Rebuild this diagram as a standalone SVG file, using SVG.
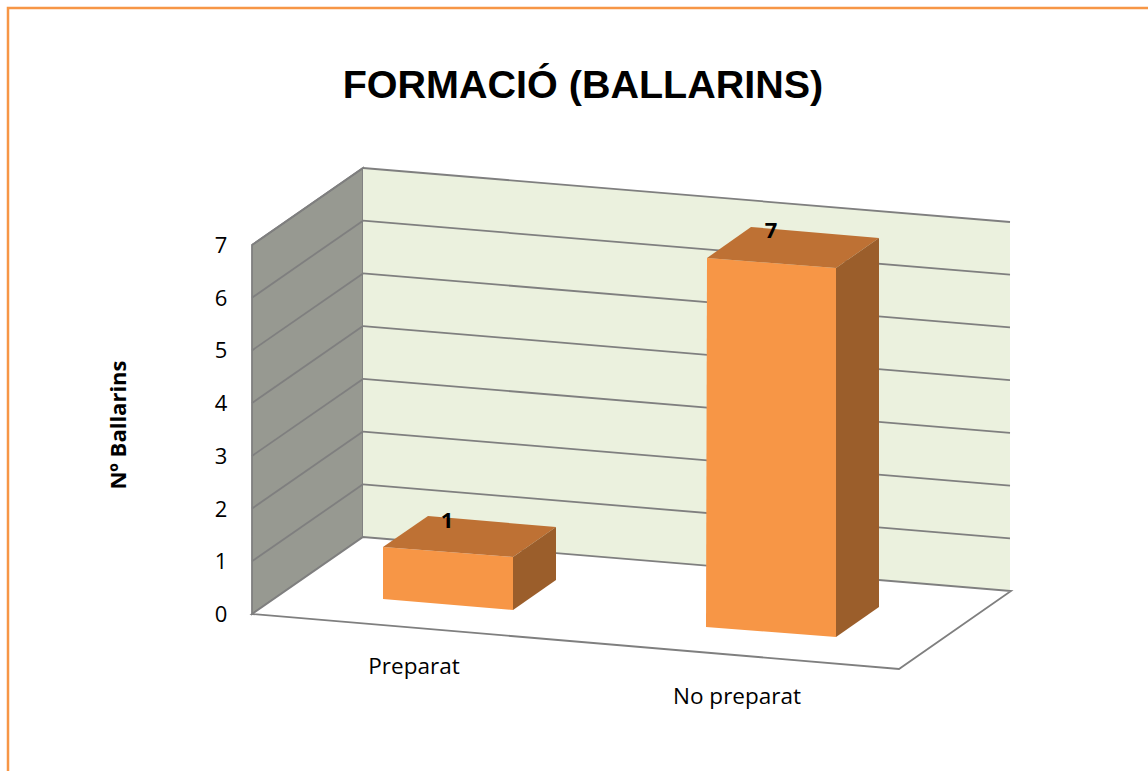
<svg xmlns="http://www.w3.org/2000/svg" width="1148" height="771" viewBox="0 0 1148 771">
<style>
.grid{stroke:#7F7F7F;stroke-width:1.8;fill:none}
.lbl{font-family:"Open Sans","Noto Sans",sans-serif;font-size:22.5px;fill:#000}
.ylbl{font-family:"Open Sans","Noto Sans",sans-serif;font-size:22px;fill:#000;text-anchor:middle}
.bold{font-weight:bold}
.front{fill:#F79646}
.top{fill:#BE7134}
.side{fill:#9B5E2B}
</style>
<rect x="0" y="0" width="1148" height="771" fill="#fff"/>
<rect x="8" y="8" width="1160" height="800" fill="none" stroke="#F79646" stroke-width="2.5"/>
<text x="583" y="98" text-anchor="middle" font-family="Liberation Sans, Arial, sans-serif" font-weight="bold" font-size="39.5">FORMACIÓ (BALLARINS)</text>
<g id="walls">
<polygon points="252,245 363,168 363,537 252,614" fill="#979991" stroke="#7F7F7F" stroke-width="1.8"/>
<polygon points="363,168 1010,222 1010,591 363,537" fill="#EBF1DE"/>
<polygon points="252,614 899,669 1011,591 363,537" fill="#fff" stroke="#7F7F7F" stroke-width="1.8"/>
</g>
<g id="gridlines" class="grid">
<line x1="363" y1="168" x2="1010" y2="222"/>
<line x1="363" y1="220.7" x2="1010" y2="274.7"/>
<line x1="363" y1="273.4" x2="1010" y2="327.4"/>
<line x1="363" y1="326.1" x2="1010" y2="380.1"/>
<line x1="363" y1="378.9" x2="1010" y2="432.9"/>
<line x1="363" y1="431.6" x2="1010" y2="485.6"/>
<line x1="363" y1="484.3" x2="1010" y2="538.3"/>
<line x1="252" y1="245" x2="363" y2="168"/>
<line x1="252" y1="297.7" x2="363" y2="220.7"/>
<line x1="252" y1="350.4" x2="363" y2="273.4"/>
<line x1="252" y1="403.1" x2="363" y2="326.1"/>
<line x1="252" y1="455.9" x2="363" y2="378.9"/>
<line x1="252" y1="508.6" x2="363" y2="431.6"/>
<line x1="252" y1="561.3" x2="363" y2="484.3"/>
</g>
<g id="yaxis">
<text class="ylbl" x="221" y="253">7</text>
<text class="ylbl" x="221" y="305.7">6</text>
<text class="ylbl" x="221" y="358.4">5</text>
<text class="ylbl" x="221" y="411.1">4</text>
<text class="ylbl" x="221" y="463.9">3</text>
<text class="ylbl" x="221" y="516.6">2</text>
<text class="ylbl" x="221" y="569.3">1</text>
<text class="ylbl" x="221" y="622">0</text>
<text class="ylbl bold" transform="translate(126,425) rotate(-90)">Nº Ballarins</text>
</g>
<g id="bar-preparat">
<polygon class="front" points="383,547 513,557 513,610 383,599"/>
<polygon class="top" points="383,547 428,516 556,527 513,557"/>
<polygon class="side" points="513,557 556,527 556,580 513,610"/>
<text class="ylbl bold" x="447" y="528">1</text>
<text class="lbl" x="414" y="674" text-anchor="middle">Preparat</text>
</g>
<g id="bar-nopreparat">
<polygon class="front" points="707,258 836,268 836,637 706,627"/>
<polygon class="top" points="707,258 751,227 879,238 836,268"/>
<polygon class="side" points="836,268 879,238 879,607 836,637"/>
<text class="ylbl bold" x="771" y="238">7</text>
<text class="lbl" x="737" y="704" text-anchor="middle">No preparat</text>
</g>
</svg>
